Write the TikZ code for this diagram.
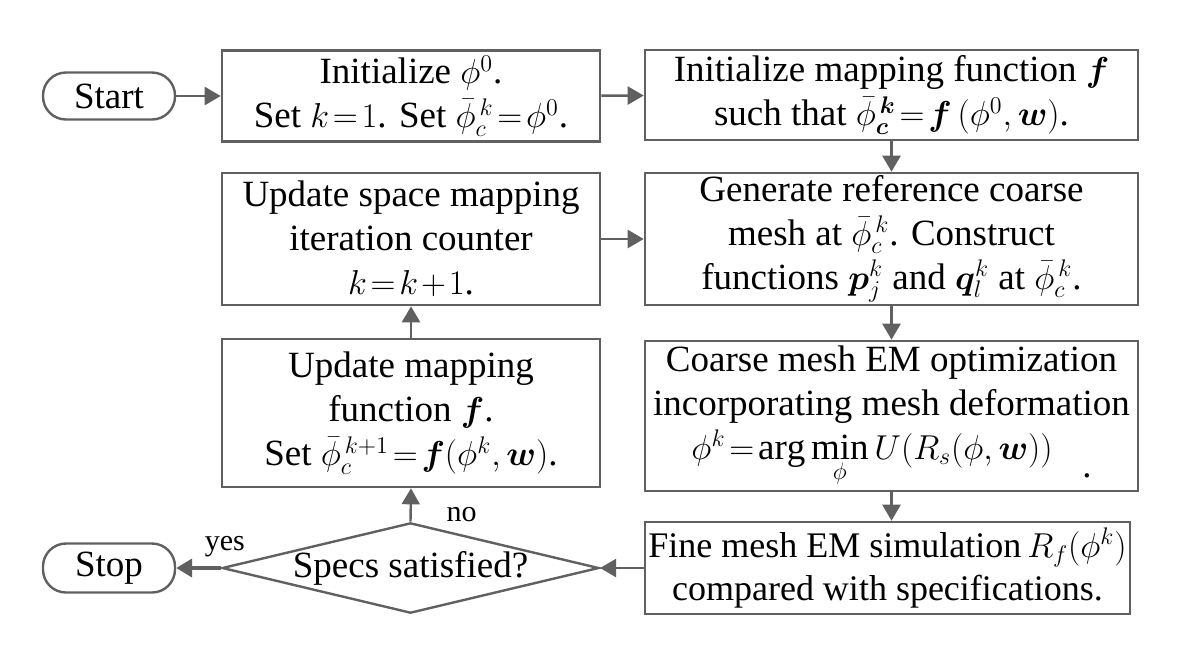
\documentclass[tikz,border=0pt]{standalone}
\usepackage{bm}
\usepackage{fontspec}
\setmainfont{Liberation Serif}
\usetikzlibrary{shapes.geometric,arrows.meta}
\definecolor{linegray}{RGB}{96,96,96}
\thickmuskip=2mu\relax
\medmuskip=1.5mu\relax
\begin{document}
\begin{tikzpicture}[x=0.5pt,y=-0.5pt,
    box/.style={rectangle,draw=linegray,line width=1.3pt,align=center,inner sep=0pt},
    term/.style={rectangle,rounded corners=11.5pt,draw=linegray,line width=1.2pt,minimum width=66pt,inner sep=0pt},
    arr/.style={-{Triangle[length=8pt,width=9pt]},draw=linegray,fill=linegray,line width=1.2pt},
    every node/.style={font=\fontsize{18.5}{22}\selectfont}]
    \useasboundingbox (0,0) rectangle (1186,650);

    \node[term,minimum height=23.5pt] (start) at (109,96) {Start};
    \node[box,minimum width=189pt,minimum height=45.5pt] (init) at (411,96)
        {Initialize $\phi^0$.\\ Set $k=1$. Set $\bar{\phi}_c^{\,k}=\phi^0$.};
    \node[box,minimum width=246.5pt,minimum height=45pt] (initf) at (891.5,95)
        {Initialize mapping function $\bm{f}$\\ such that $\bar{\phi}_{\bm{c}}^{\,\bm{k}}=\bm{f}\,(\phi^0,\bm{w})$.};
    \node[box,minimum width=246.5pt,minimum height=66pt] (gen) at (891.5,239)
        {Generate reference coarse\\ mesh at $\bar{\phi}_c^{\,k}$. Construct\\ functions $\bm{p}_j^k$ and $\bm{q}_l^k$ at $\bar{\phi}_c^{\,k}$.};
    \node[box,minimum width=189pt,minimum height=66pt] (counter) at (411,239)
        {Update space mapping\\ iteration counter\\ $k=k+1$.};
    \node[box,minimum width=189pt,minimum height=74pt] (update) at (411,413)
        {Update mapping\\ function $\bm{f}$.\\ Set $\bar{\phi}_c^{\,k+1}=\bm{f}(\phi^k,\bm{w})$.};
    \node[box,minimum width=246.5pt,minimum height=75pt] (coarse) at (891.5,416)
        {Coarse mesh EM optimization\\ incorporating mesh deformation\\
         $\phi^k=\arg\min\limits_{\phi}U(R_s(\phi,\bm{w}))$\hspace{0.8em}\raisebox{-9pt}{.}};
    \node[box,minimum width=242.5pt,minimum height=46pt,font=\fontsize{18}{21.5}\selectfont] (fine) at (887.5,568)
        {Fine mesh EM simulation\,$R_f(\phi^k)$\\ compared with specifications.};
    \node[diamond,aspect=4.17,draw=linegray,line width=1.2pt,inner sep=0pt,
        minimum width=187.5pt,minimum height=45pt] (specs) at (410.5,568) {Specs satisfied?};
    \node[term,minimum height=24.5pt] (stop) at (109,568) {Stop};

    \draw[arr] (start) -- (init);
    \draw[arr] (init) -- (initf);
    \draw[arr] (initf) -- (gen);
    \draw[arr] (counter) -- (gen);
    \draw[arr] (gen) -- (coarse);
    \draw[arr] (coarse.south) -- (coarse.south |- fine.north);
    \draw[arr] (fine.west) -- (specs.east);
    \draw[arr,line width=2pt] (specs.west) -- node[pos=0,above=1pt,xshift=2pt,font=\fontsize{15}{17}\selectfont] {yes} (stop.east);
    \draw[arr] (specs.north) -- node[right=14pt,yshift=-5pt,font=\fontsize{15}{17}\selectfont] {no} (update.south);
    \draw[arr] (update) -- (counter);
\end{tikzpicture}
\end{document}
